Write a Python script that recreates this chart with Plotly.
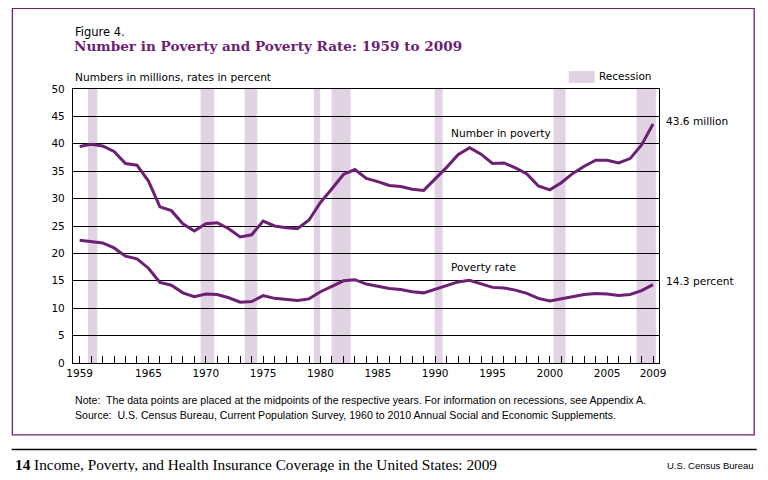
import plotly.graph_objects as go

years = list(range(1959, 2010))
number_millions = [39.5, 39.9, 39.6, 38.6, 36.4, 36.1, 33.2, 28.5, 27.8, 25.4,
                   24.1, 25.4, 25.6, 24.5, 23.0, 23.4, 25.9, 25.0, 24.7, 24.5,
                   26.1, 29.3, 31.8, 34.4, 35.3, 33.7, 33.1, 32.4, 32.2, 31.7,
                   31.5, 33.6, 35.7, 38.0, 39.3, 38.1, 36.4, 36.5, 35.6, 34.5,
                   32.3, 31.6, 32.9, 34.6, 35.9, 37.0, 37.0, 36.5, 37.3, 39.8,
                   43.6]
rate_percent = [22.4, 22.2, 21.9, 21.0, 19.5, 19.0, 17.3, 14.7, 14.2, 12.8,
                12.1, 12.6, 12.5, 11.9, 11.1, 11.2, 12.3, 11.8, 11.6, 11.4,
                11.7, 13.0, 14.0, 15.0, 15.2, 14.4, 14.0, 13.6, 13.4, 13.0,
                12.8, 13.5, 14.2, 14.8, 15.1, 14.5, 13.8, 13.7, 13.3, 12.7,
                11.8, 11.3, 11.7, 12.1, 12.5, 12.7, 12.6, 12.3, 12.5, 13.2,
                14.3]
# recession bands, in the chart's year scale (data points sit on year midpoints)
recession_start = [1959.72, 1969.55, 1973.39, 1979.43, 1980.97, 1989.95, 2000.33, 2007.56]
recession_end = [1960.55, 1970.74, 1974.49, 1979.98, 1982.63, 1990.65, 2001.37, 2009.25]
labelled_years = [1959, 1965, 1970, 1975, 1980, 1985, 1990, 1995, 2000, 2005, 2009]

PURPLE = "#6d1f73"
BAND = "#e2d3e4"
# the page body has an 8px margin, so the figure is drawn 8px smaller and
# every page coordinate below is shifted back by that much
OFF = 8
W, H = 768 - 2 * OFF, 480 - 2 * OFF
L, R, T, B = 73.3 - OFF, 659.3 - OFF, 89.0 - OFF, 362.7 - OFF


def px(x):
    return (x - OFF - L) / (R - L)


def py(y):
    return (B - (y - OFF)) / (B - T)


fig = go.Figure()
fig.add_trace(go.Scatter(x=years, y=number_millions, mode="lines",
                         line=dict(color=PURPLE, width=3), hoverinfo="skip"))
fig.add_trace(go.Scatter(x=years, y=rate_percent, mode="lines",
                         line=dict(color=PURPLE, width=3), hoverinfo="skip"))

for s, e in zip(recession_start, recession_end):
    fig.add_shape(type="rect", xref="x", yref="y", x0=s, x1=e, y0=0, y1=50,
                  fillcolor=BAND, line_width=0, layer="below")

# frame, footer rule, legend swatch
fig.add_shape(type="rect", xref="paper", yref="paper", x0=px(12.7), x1=px(754.5),
              y0=py(434.5), y1=py(8.5), line=dict(color=PURPLE, width=1.3))
fig.add_shape(type="line", xref="paper", yref="paper", x0=px(12), x1=px(757),
              y0=py(449), y1=py(449), line=dict(color="black", width=1.5))
fig.add_shape(type="rect", xref="paper", yref="paper", x0=px(569), x1=px(595),
              y0=py(83), y1=py(71), fillcolor=BAND, line_width=0)

sans = "DejaVu Sans"


def note(text, x, y, size=10, family=sans, color="black", anchor="left"):
    fig.add_annotation(text=text, xref="paper", yref="paper", x=px(x), y=py(y),
                       xanchor=anchor, yanchor="middle", showarrow=False,
                       font=dict(family=family, size=size, color=color))


note("Figure 4.", 73, 32, size=11.5)
note("<b>Number in Poverty and Poverty Rate: 1959 to 2009</b>", 72, 46, size=13.6,
     family="DejaVu Serif", color=PURPLE)
note("Numbers in millions, rates in percent", 73, 77, size=10.6)
note("Recession", 597, 76, size=10.5)
note("Number in poverty", 449, 133, size=10.6)
note("Poverty rate", 449, 267, size=10.6)
note("43.6 million", 664, 121, size=10.6)
note("14.3 percent", 664, 281, size=10.6)
note("Note:  The data points are placed at the midpoints of the respective years. "
     "For information on recessions, see Appendix A.", 73, 400, size=10.6,
     family="Liberation Sans")
note("Source:  U.S. Census Bureau, Current Population Survey, 1960 to 2010 "
     "Annual Social and Economic Supplements.", 73, 415, size=10.6,
     family="Liberation Sans")
note("<b>14</b> Income, Poverty, and Health Insurance Coverage in the United States: 2009",
     13, 464, size=15.3, family="Liberation Serif")
note("U.S. Census Bureau", 756, 465, size=9.5, family="Liberation Sans", anchor="right")

fig.update_layout(
    width=W, height=H,
    margin=dict(l=L, r=W - R, t=T, b=H - B, pad=0),
    paper_bgcolor="white", plot_bgcolor="rgba(0,0,0,0)",
    showlegend=False,
    font=dict(family=sans, size=10.5, color="black"),
)
fig.update_xaxes(range=[1958.42, 2009.52], tickmode="array", tickvals=years,
                 ticktext=[str(y) if y in labelled_years else "" for y in years],
                 ticks="inside", ticklen=7, tickcolor="black", tickwidth=1,
                 showgrid=False, zeroline=False, showline=True, linecolor="black",
                 linewidth=1.3, mirror=True, tickfont=dict(size=10.5))
fig.update_yaxes(range=[0, 50], dtick=5, ticks="", showgrid=True, gridcolor="black",
                 gridwidth=1, zeroline=False, showline=True, linecolor="black",
                 linewidth=1.3, mirror=True, tickfont=dict(size=10.5),
                 ticklabelstandoff=5)

fig.write_html("out.html")
